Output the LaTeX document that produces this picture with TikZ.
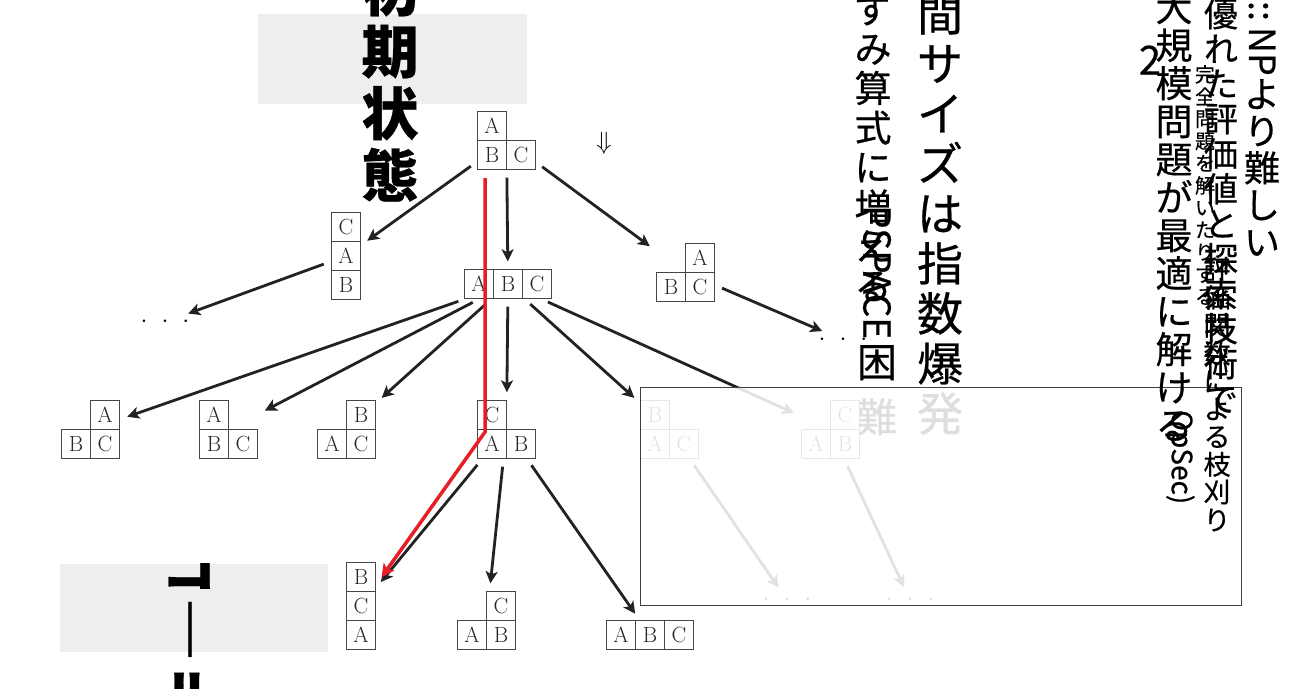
\documentclass[tikz,border=0pt]{standalone}
\usepackage{fontspec}
\usepackage{xcolor}
\usepackage{tikz}
\usetikzlibrary{arrows.meta}
\newfontfamily\cjk[FakeBold=0.5]{Noto Sans CJK JP}
\definecolor{PathRed}{RGB}{232, 30, 38}
\definecolor{BoxGray}{RGB}{238, 238, 238}
\definecolor{CellLine}{RGB}{70, 70, 70}
\definecolor{ArrowDark}{RGB}{34, 34, 34}
\newcommand{\jpsize}[2]{\cjk\fontsize{#1}{#2}\selectfont\lineskiplimit=-500pt\lineskip=0pt}

\begin{document}
\begin{tikzpicture}[x=1pt, y=-1pt,
    blockcell/.style={draw=CellLine, line width=1.4pt, minimum size=29pt, inner sep=0pt,
        text=black!85, font=\fontsize{22}{22}\selectfont},
    statebox/.style={inner sep=0pt},
    movearrow/.style={-{Stealth[length=12pt, width=12pt, inset=3pt]}, line width=2.8pt,
        draw=ArrowDark, shorten <=8pt, shorten >=8pt},
    redpath/.style={-{Stealth[length=13pt, width=13pt, inset=3pt]}, line width=3.5pt,
        draw=PathRed, shorten >=10pt},
    vcol/.style={align=center, inner sep=0pt, anchor=north},
    dotrow/.style={inner sep=0pt, font=\fontsize{26}{26}\selectfont}]
    \useasboundingbox (0,0) rectangle (1305,688);

    % Label backgrounds
    \fill[BoxGray] (258,14) rectangle (527,104);
    \fill[BoxGray] (60,564) rectangle (328,652);

    % Vertical labels (left part)
    \node[vcol, font=\jpsize{57}{62}\bfseries] (initlabel) at (390,-38) {初\\期\\状\\態};
    \node[vcol, font=\jpsize{46}{50}] (spacelabel) at (940,-58) {空\\間\\サ\\イ\\ズ\\は\\指\\数\\爆\\発};
    \node[vcol, font=\jpsize{37}{39.5}] (growlabel) at (873,-46) {ね\\ず\\み\\算\\式\\に\\増\\え\\る};
    \node[inner sep=0pt, rotate=-90, anchor=west, font=\jpsize{37}{37}] (pspacelabel) at (877,205) {PSPACE};
    \node[vcol, font=\jpsize{40}{55}] (hardlabel) at (877,345) {困\\難};
    \begin{scope}
        \clip (0,563) rectangle (1305,688);
        \node[vcol, font=\jpsize{55}{65}\bfseries] (goallabel) at (190,537) {ゴ\\｜\\ル};
    \end{scope}

    % States
    \foreach \name/\sx/\sy/\sw/\sh in {root/506.5/140.5/58/58, sL/346/256/29/87, sM/508/284/87/29,
        sR/685.5/272.5/58/58, tA/90.5/429.5/58/58, tB/228.5/429.5/58/58, tC/346.5/429.5/58/58,
        tD/506.5/429.5/58/58, tE/669.5/429.5/58/58, tF/830.5/429.5/58/58,
        gBCA/361/606/29/87, gCAB/486.5/620.5/58/58, gABC/650/635/87/29}
        \node[statebox, minimum width=\sw pt, minimum height=\sh pt] (\name) at (\sx,\sy) {};

    % Blocks
    \foreach \cx/\cy/\ct in {492/126/A, 492/155/B, 521/155/C,
        346/227/C, 346/256/A, 346/285/B,
        479/284/A, 508/284/B, 537/284/C,
        700/258/A, 671/287/B, 700/287/C,
        105/415/A, 76/444/B, 105/444/C,
        214/415/A, 214/444/B, 243/444/C,
        361/415/B, 332/444/A, 361/444/C,
        492/415/C, 492/444/A, 521/444/B,
        655/415/B, 655/444/A, 684/444/C,
        845/415/C, 816/444/A, 845/444/B,
        361/577/B, 361/606/C, 361/635/A,
        501/606/C, 472/635/A, 501/635/B,
        621/635/A, 650/635/B, 679/635/C}
        \node[blockcell] at (\cx,\cy) {\ct};

    % Unexpanded branches
    \node[dotrow] (dotsL) at (165,322) {${\cdot}\hspace{14pt}{\cdot}\hspace{14pt}{\cdot}$};
    \node[dotrow] (dotsR) at (843,340) {${\cdot}\hspace{14pt}{\cdot}\hspace{14pt}{\cdot}$};
    \node[dotrow] (dotsE) at (787,600) {${\cdot}\hspace{14pt}{\cdot}\hspace{14pt}{\cdot}$};
    \node[dotrow] (dotsF) at (910,600) {${\cdot}\hspace{14pt}{\cdot}\hspace{14pt}{\cdot}$};

    % Moves
    \foreach \a/\b in {root/sL, root/sM, root/sR, sL/dotsL, sR/dotsR,
        sM/tA, sM/tB, sM/tC, sM/tD, sM/tE, sM/tF,
        tD/gBCA, tD/gCAB, tD/gABC, tE/dotsE, tF/dotsF}
        \draw[movearrow] (\a) -- (\b);

    % Solution path
    \coordinate (redtop) at (485,178);
    \coordinate (redbend) at (485,432);
    \draw[redpath] (redtop) -- (redbend) -- (gBCA);

    \node[font=\fontsize{26}{26}\selectfont] (downmark) at (604,143) {$\Downarrow$};

    % Faded region
    \fill[white, opacity=0.87] (640,387) rectangle (1241,605);
    \draw[black!75, line width=0.9pt] (640,387) rectangle (1241,605);

    % Vertical labels (right part)
    \node[inner sep=0pt, rotate=-90, anchor=east, font=\jpsize{36}{36}] (nplabel) at (1262,76) {::\,NP};
    \node[vcol, font=\jpsize{36}{37}] (harderlabel) at (1262,79) {よ\\り\\難\\し\\い};
    \node[vcol, font=\jpsize{37}{38}] (largelabel) at (1174,-10) {大\\規\\模\\問\\題\\が\\最\\適\\に\\解\\け\\る};
    \node[inner sep=0pt, font=\jpsize{40}{40}] (twolabel) at (1150,60) {2};
    \node[vcol, font=\jpsize{34}{35}] (searchlabel) at (1221,-2) {優\\れ\\た\\評\\価\\値\\と\\探\\索\\技\\術\\で};
    \node[vcol, font=\jpsize{27}{27.8}] (prunelabel) at (1217,258) {評\\価\\関\\数\\に\\よ\\る\\枝\\刈\\り};
    \node[vcol, font=\jpsize{20}{22.2}] (solvedlabel) at (1205,65) {完\\全\\問\\題\\を\\解\\い\\た\\り\\す\\る};
    \node[inner sep=0pt, rotate=-90, anchor=west, font=\jpsize{28}{28}] (opseclabel) at (1180,410) {OpSec)};
\end{tikzpicture}
\end{document}
